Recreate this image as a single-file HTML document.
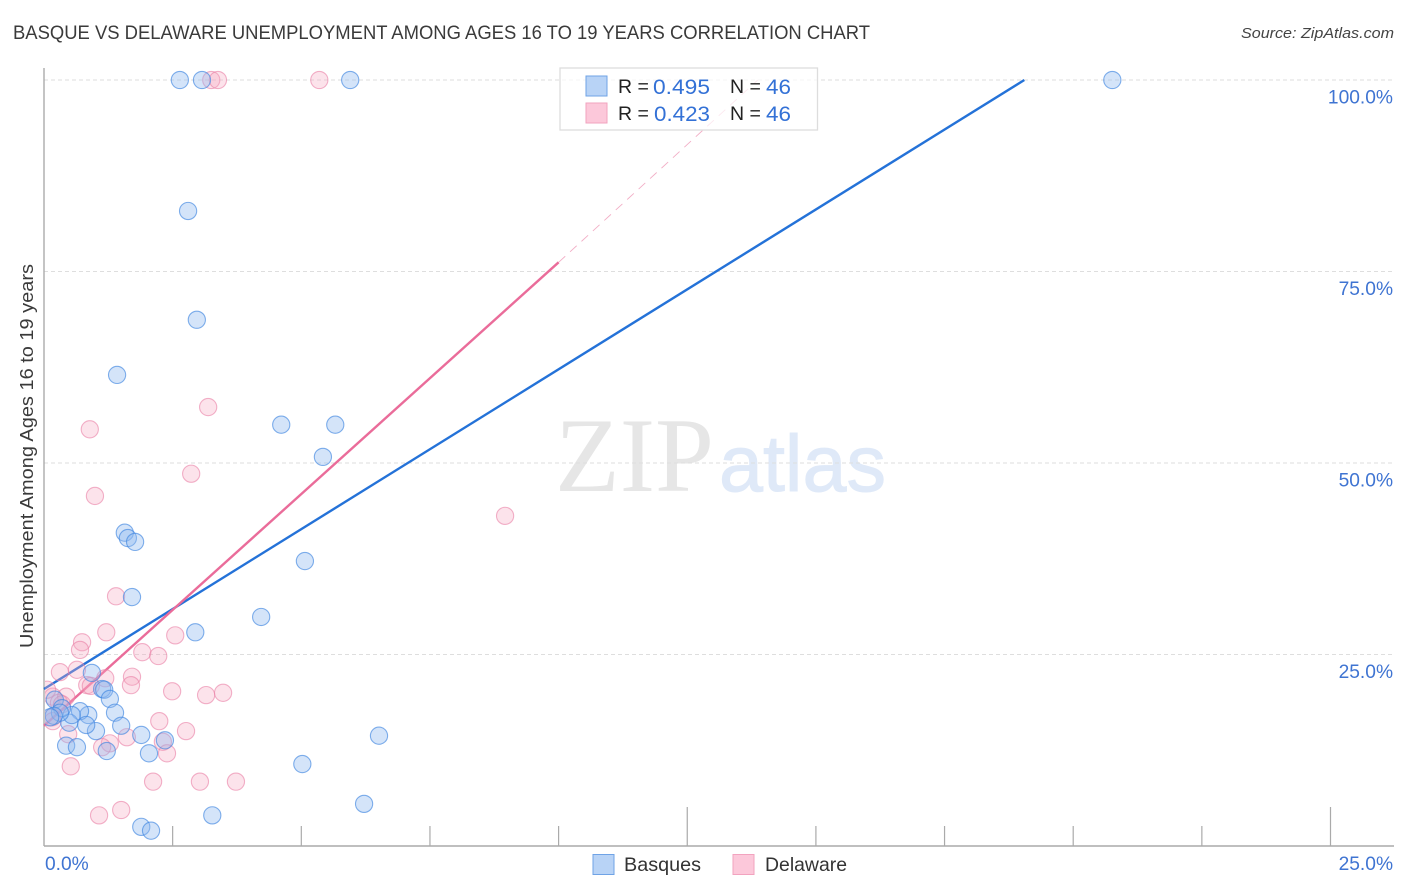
<!DOCTYPE html>
<html>
<head>
<meta charset="utf-8">
<title>Basque vs Delaware Unemployment Chart</title>
<style>
html,body{margin:0;padding:0;background:#fff;width:1406px;height:892px;overflow:hidden}
svg{display:block}
text{font-family:"Liberation Sans",sans-serif}
</style>
</head>
<body>
<svg id="chart" width="1406" height="892" viewBox="0 0 1406 892">
  <defs><clipPath id="plot-clip"><rect x="45" y="60" width="1349" height="786"></rect></clipPath></defs>
  <text x="13" y="39" font-size="19.5" fill="#3a3a3a" textLength="857" lengthAdjust="spacingAndGlyphs">BASQUE VS DELAWARE UNEMPLOYMENT AMONG AGES 16 TO 19 YEARS CORRELATION CHART</text>
  <text x="1241" y="38" font-size="15" font-style="italic" fill="#444" textLength="153" lengthAdjust="spacingAndGlyphs">Source: ZipAtlas.com</text>
  <text x="555" y="491" font-size="106" fill="#e6e6e6" style="font-family:'Liberation Serif',serif" textLength="159" lengthAdjust="spacingAndGlyphs">ZIP</text>
  <text x="719" y="491" font-size="80" fill="#dfe9f8" stroke="#dfe9f8" stroke-width="1" textLength="167" lengthAdjust="spacingAndGlyphs">atlas</text>
  <g id="grid"></g>
  <g id="axes"></g>
  <g id="trend-lines"></g>
  <g id="points" clip-path="url(#plot-clip)"></g>
  <g id="tick-labels"></g>
  <text transform="translate(33,456) rotate(-90)" text-anchor="middle" font-size="18.5" fill="#3a3a3a" textLength="384" lengthAdjust="spacingAndGlyphs">Unemployment Among Ages 16 to 19 years</text>

  <g>
    <rect x="560" y="68" width="257.5" height="62" fill="#fff" fill-opacity="0.72" stroke="#ddd" stroke-width="1.3"></rect>
    <rect x="586" y="76" width="21" height="20" fill="#b8d3f6" stroke="#6fa3e6" stroke-width="1"></rect>
    <rect x="586" y="103" width="21" height="20" fill="#fcc8da" stroke="#f2a3bf" stroke-width="1"></rect>
    <text x="618" y="93" font-size="19.5" fill="#222">R =</text>
    <text x="653" y="94" font-size="21.5" fill="#3371d6" textLength="57" lengthAdjust="spacingAndGlyphs">0.495</text>
    <text x="730" y="93" font-size="19.5" fill="#222">N =</text>
    <text x="766" y="94" font-size="21.5" fill="#3371d6" textLength="25" lengthAdjust="spacingAndGlyphs">46</text>
    <text x="618" y="120" font-size="19.5" fill="#222">R =</text>
    <text x="654" y="121" font-size="21.5" fill="#3371d6" textLength="56" lengthAdjust="spacingAndGlyphs">0.423</text>
    <text x="730" y="120" font-size="19.5" fill="#222">N =</text>
    <text x="766" y="121" font-size="21.5" fill="#3371d6" textLength="25" lengthAdjust="spacingAndGlyphs">46</text>
  </g>

  <g>
    <rect x="593" y="854.5" width="21" height="20" fill="#b8d3f6" stroke="#6fa3e6" stroke-width="1"></rect>
    <text x="624" y="871" font-size="19.5" fill="#333" textLength="77" lengthAdjust="spacingAndGlyphs">Basques</text>
    <rect x="733" y="854.5" width="21" height="20" fill="#fcc8da" stroke="#f2a3bf" stroke-width="1"></rect>
    <text x="765" y="871" font-size="19.5" fill="#333" textLength="82" lengthAdjust="spacingAndGlyphs">Delaware</text>
  </g>
</svg>
<script>
const basquesX = [2.64,3.07,5.95,20.76,2.80,2.97,1.42,4.61,5.66,5.42,1.57,1.63,1.77,5.07,1.71,4.22,2.94,0.93,1.13,1.17,1.28,1.38,1.50,1.01,1.89,2.35,6.51,2.04,1.22,0.43,0.64,5.02,6.22,3.27,1.89,2.08,0.86,0.70,0.82,0.49,0.54,0.21,0.35,0.31,0.19,0.12];
const basquesY = [100,100,100,100,82.9,68.7,61.5,55.0,55.0,50.8,40.9,40.2,39.7,37.2,32.5,29.9,27.9,22.6,20.5,20.4,19.2,17.4,15.7,15.0,14.5,13.8,14.4,12.1,12.4,13.1,12.9,10.7,5.5,4.0,2.5,2.0,17.1,17.6,15.8,16.1,17.1,19.1,18.0,17.4,17.0,16.8];
const delawareX = [3.25,3.38,5.35,3.19,0.89,2.86,0.99,8.96,1.40,1.21,2.55,0.74,0.70,1.91,2.22,0.31,0.64,1.71,1.69,1.19,0.84,0.91,2.49,3.15,3.48,2.24,2.76,0.47,1.61,1.28,1.13,2.31,2.39,0.52,2.12,3.03,3.73,1.07,1.50,0.17,0.06,0.43,0.29,0.16,0.17,0.35];
const delawareY = [100,100,100,57.3,54.4,48.6,45.7,43.1,32.6,27.9,27.5,26.6,25.6,25.3,24.8,22.7,23.0,22.1,21.0,21.9,21.0,20.9,20.2,19.7,20.0,16.3,15.0,14.6,14.2,13.4,12.9,13.6,12.1,10.4,8.4,8.4,8.4,4.0,4.7,19.5,20.4,19.5,18.7,16.8,16.3,18.5];
const yTickValues = [100,75,50,25];
const yTickLabels = ["100.0%","75.0%","50.0%","25.0%"];
const xTickValues = [0,2.5,5,7.5,10,12.5,15,17.5,20,22.5,25];
const xMajorTicks = [12.5,25];
const xEndLabels = ["0.0%","25.0%"];
const basquesTrend = [0,20.5,19.05,100];
const delawareTrendSolid = [0,15.7,10,76.2];
const delawareTrendDashed = [10,76.2,13.87,100];

const NS = "http://www.w3.org/2000/svg";
function xScale(v){ return 44 + v * (1330.5 - 44) / 25; }
function yScale(v){ return 846 - v * (846 - 80) / 100; }
function make(tag, parent, attrs){
  const el = document.createElementNS(NS, tag);
  for (const k in attrs) el.setAttribute(k, attrs[k]);
  document.getElementById(parent).appendChild(el);
  return el;
}

yTickValues.forEach(function(v){
  const g = make('line', 'grid', {x1:44, x2:1394, y1:yScale(v), y2:yScale(v), stroke:'#dedede', 'stroke-width':1, 'stroke-dasharray':'4 3'});
  
  
});

const yAxis = make('line', 'axes', {x1:44, x2:44, y1:68, y2:846, stroke:'#aaa', 'stroke-width':1.4});


const xAxis = make('line', 'axes', {x1:44, x2:1394, y1:846, y2:846, stroke:'#aaa', 'stroke-width':1.4});


xTickValues.forEach(function(v){
  if (v === 0) return;
  const top = xMajorTicks.indexOf(v) >= 0 ? 807 : 826;
  const t = make('line', 'axes', {x1:xScale(v), x2:xScale(v), y1:top, y2:846, stroke:'#aaa', 'stroke-width':1.2});
  
  
});

function trend(arr, color, width, dash, name){
  const l = make('line', 'trend-lines', {x1:xScale(arr[0]), y1:yScale(arr[1]), x2:xScale(arr[2]), y2:yScale(arr[3]), stroke:color, 'stroke-width':width, 'stroke-dasharray':dash});
  
  
}
trend(basquesTrend, '#2472d8', 2.4, 'none', 'trend-line-basques');
trend(delawareTrendSolid, '#ea6c9a', 2.4, 'none', 'trend-line-delaware');
trend(delawareTrendDashed, '#f2aec6', 0.9, '9 6.5', 'trend-line-delaware-projection');

delawareX.forEach(function(v, i){
  const c = make('circle', 'points', {cx:xScale(v), cy:yScale(delawareY[i]), r:8.6, fill:'#f7a8c2', 'fill-opacity':0.32, stroke:'#e97fa5', 'stroke-opacity':0.6, 'stroke-width':1.1});
  
  
});
basquesX.forEach(function(v, i){
  const c = make('circle', 'points', {cx:xScale(v), cy:yScale(basquesY[i]), r:8.6, fill:'#8fb9ef', 'fill-opacity':0.38, stroke:'#3f86e0', 'stroke-opacity':0.65, 'stroke-width':1.1});
  
  
});

yTickValues.forEach(function(v, i){
  const t = make('text', 'tick-labels', {x:1393, y:yScale(v) + 23.5, 'text-anchor':'end', 'font-size':19.2, fill:'#3f74d2'});
  t.textContent = yTickLabels[i];
  
  
});
const x0 = make('text', 'tick-labels', {x:45, y:870, 'font-size':19.2, fill:'#3f74d2'});
x0.textContent = xEndLabels[0];


const x1 = make('text', 'tick-labels', {x:1393, y:870, 'text-anchor':'end', 'font-size':19.2, fill:'#3f74d2'});
x1.textContent = xEndLabels[1];


</script>
</body>
</html>
